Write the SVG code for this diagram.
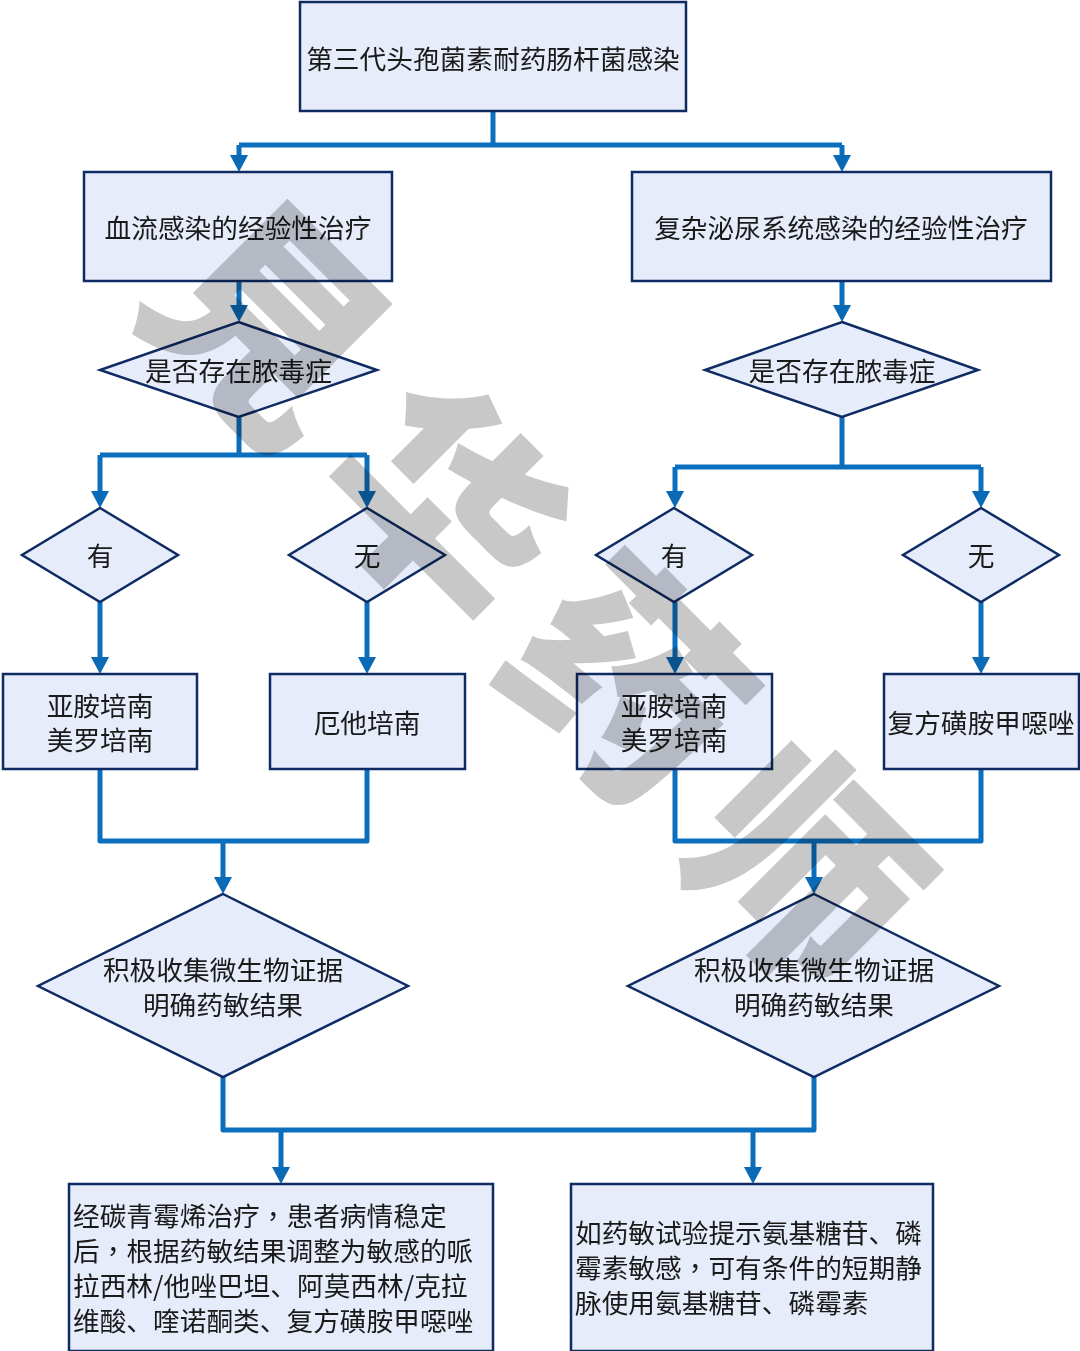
<svg xmlns="http://www.w3.org/2000/svg" width="1080" height="1351" viewBox="0 0 1080 1351">
<style>
.n{fill:#E6ECF9;stroke:#0F2B63;stroke-width:2.5}
.c{fill:none;stroke:#0B6FBD;stroke-width:5;stroke-linejoin:round}
.t{font-family:"Noto Sans CJK SC","Noto Sans",sans-serif;font-size:26.7px;fill:#1a1a1a;text-anchor:middle}
.l{text-anchor:start}
.p{font-family:"Noto Sans CJK TC",sans-serif}
.w{font-family:"Noto Sans CJK SC",sans-serif;font-weight:900;font-size:222px;fill:#C8C8C8;text-anchor:middle;mix-blend-mode:multiply}
</style>
<defs>
<marker id="a" markerUnits="userSpaceOnUse" markerWidth="22" markerHeight="22" refX="8" refY="11" orient="auto" viewBox="0 0 22 22"><path d="M1 2L18 11L1 20Z" fill="#0B6AB6"/></marker>
</defs>
<rect width="1080" height="1351" fill="#fff"/>
<g id="connectors">
<path class="c" d="M493 111V145M239 145H842"/>
<path class="c" marker-end="url(#a)" d="M239 145V162"/>
<path class="c" marker-end="url(#a)" d="M842 145V162"/>
<path class="c" marker-end="url(#a)" d="M239 281V312"/>
<path class="c" marker-end="url(#a)" d="M842 281V312"/>
<path class="c" d="M239 417V455M100 455H367"/>
<path class="c" marker-end="url(#a)" d="M100 455V498"/>
<path class="c" marker-end="url(#a)" d="M367 455V498"/>
<path class="c" d="M842 417V467M675 467H981"/>
<path class="c" marker-end="url(#a)" d="M675 467V498"/>
<path class="c" marker-end="url(#a)" d="M981 467V498"/>
<path class="c" marker-end="url(#a)" d="M100 602V664"/>
<path class="c" marker-end="url(#a)" d="M367 602V664"/>
<path class="c" marker-end="url(#a)" d="M675 602V664"/>
<path class="c" marker-end="url(#a)" d="M981 602V664"/>
<path class="c" d="M100 769V841H367V769"/>
<path class="c" marker-end="url(#a)" d="M223 841V884"/>
<path class="c" d="M675 769V841H981V769"/>
<path class="c" marker-end="url(#a)" d="M814 841V884"/>
<path class="c" d="M223 1077V1130H814V1077"/>
<path class="c" marker-end="url(#a)" d="M281 1130V1174"/>
<path class="c" marker-end="url(#a)" d="M753 1130V1174"/>
</g>
<g id="n1"><rect class="n" x="300" y="2" width="386" height="109"/><text class="t" x="493" y="68.500">第三代头孢菌素耐药肠杆菌感染</text></g>
<g id="n2"><rect class="n" x="84" y="172" width="308" height="109"/><text class="t" x="238" y="237.500">血流感染的经验性治疗</text></g>
<g id="n3"><rect class="n" x="632" y="172" width="419" height="109"/><text class="t" x="841" y="237.500">复杂泌尿系统感染的经验性治疗</text></g>
<g id="n4"><polygon class="n" points="238.500,322 377,370 238.500,417 100,370"/><text class="t" x="238.500" y="380.500">是否存在脓毒症</text></g>
<g id="n5"><polygon class="n" points="842,322 978,370 842,417 705,370"/><text class="t" x="842" y="380.500">是否存在脓毒症</text></g>
<g id="n6"><polygon class="n" points="100,508 178,555 100,602 22,555"/><text class="t" x="100" y="566">有</text></g>
<g id="n7"><polygon class="n" points="367,508 445,555 367,602 289,555"/><text class="t" x="367" y="566">无</text></g>
<g id="n8"><polygon class="n" points="674,508 752,555 674,602 596,555"/><text class="t" x="674" y="566">有</text></g>
<g id="n9"><polygon class="n" points="981,508 1059,555 981,602 903,555"/><text class="t" x="981" y="566">无</text></g>
<g id="n10"><rect class="n" x="3" y="674" width="194" height="95"/><text class="t" x="100" y="716">亚胺培南</text><text class="t" x="100" y="750">美罗培南</text></g>
<g id="n11"><rect class="n" x="270" y="674" width="195" height="95"/><text class="t" x="367" y="733">厄他培南</text></g>
<g id="n12"><rect class="n" x="577" y="674" width="195" height="95"/><text class="t" x="674" y="716">亚胺培南</text><text class="t" x="674" y="750">美罗培南</text></g>
<g id="n13"><rect class="n" x="884" y="674" width="195" height="95"/><text class="t" x="981" y="733">复方磺胺甲噁唑</text></g>
<g id="n14"><polygon class="n" points="223,894 408,986 223,1077 38,986"/><text class="t" x="223" y="980">积极收集微生物证据</text><text class="t" x="223" y="1015">明确药敏结果</text></g>
<g id="n15"><polygon class="n" points="814,894 999,986 814,1077 628,986"/><text class="t" x="814" y="980">积极收集微生物证据</text><text class="t" x="814" y="1015">明确药敏结果</text></g>
<g id="n16"><rect class="n" x="69" y="1184" width="424" height="167"/>
<text class="t l" x="73" y="1226">经碳青霉烯治疗<tspan class="p">，</tspan>患者病情稳定</text>
<text class="t l" x="73" y="1261">后<tspan class="p">，</tspan>根据药敏结果调整为敏感的哌</text>
<text class="t l" x="73" y="1296">拉西林/他唑巴坦、阿莫西林/克拉</text>
<text class="t l" x="73" y="1331">维酸、喹诺酮类、复方磺胺甲噁唑</text></g>
<g id="n17"><rect class="n" x="571" y="1184" width="362" height="167"/>
<text class="t l" x="575" y="1243">如药敏试验提示氨基糖苷、磷</text>
<text class="t l" x="575" y="1278">霉素敏感<tspan class="p">，</tspan>可有条件的短期静</text>
<text class="t l" x="575" y="1313">脉使用氨基糖苷、磷霉素</text></g>
<g id="watermark">
<text class="w" transform="translate(265 325) rotate(45) translate(0 78)">見</text>
<text class="w" transform="translate(442 507) rotate(45) translate(0 78)">华</text>
<text class="w" transform="translate(625 685) rotate(45) translate(0 78)">药</text>
<text class="w" transform="translate(800 870) rotate(45) translate(0 78)">师</text>
</g>
</svg>
